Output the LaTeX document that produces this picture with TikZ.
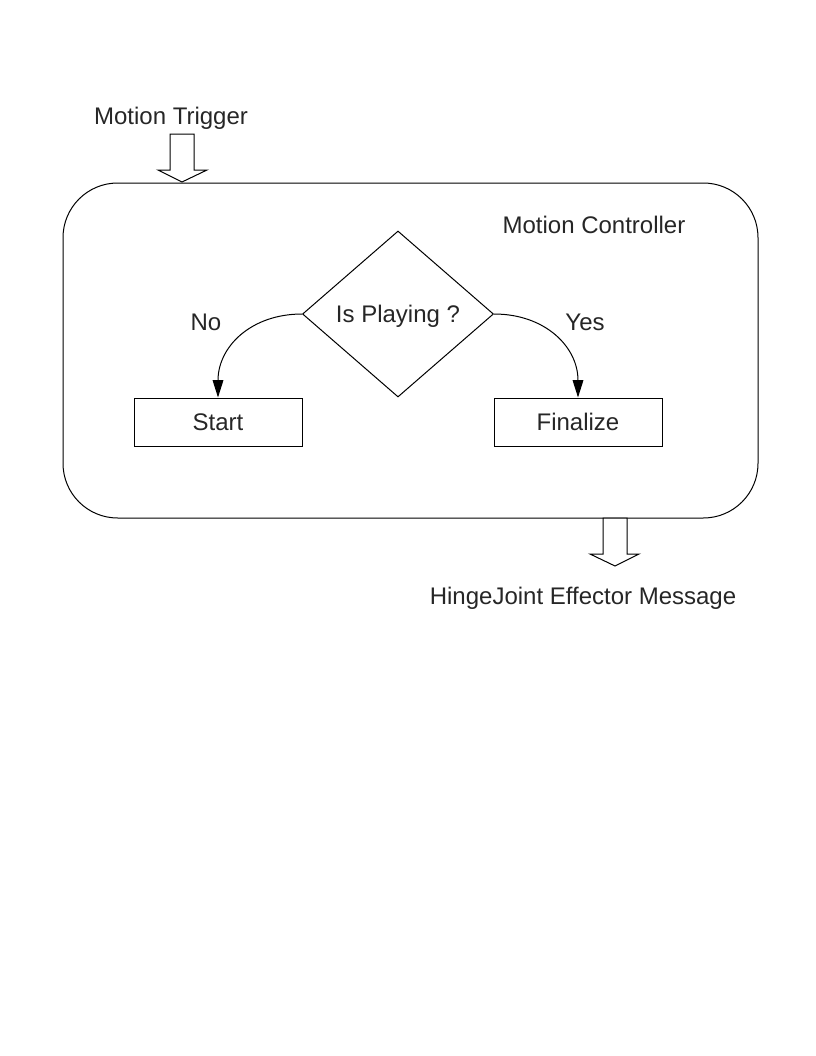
\documentclass[tikz,border=0pt]{standalone}
\usepackage{fontspec}
\setmainfont{Liberation Sans}
\usetikzlibrary{shapes.geometric,arrows.meta}
\begin{document}
\begin{tikzpicture}[x=0.75pt,y=-0.75pt,
  lbl/.style={font=\fontsize{18}{21}\selectfont, text=black!85, inner sep=0},
  box/.style={draw, line width=0.75pt, minimum width=126pt, minimum height=36pt, inner sep=0, font=\fontsize{18}{21}\selectfont, text=black!85},
  flow/.style={draw, line width=0.75pt, -{Triangle[length=13pt,width=8pt]}},
  blockarrow/.style={draw, line width=0.75pt, fill=white}]
\useasboundingbox (0,0) rectangle (816,1056);
\node[draw, line width=0.75pt, rounded corners=41pt, minimum width=521.25pt, minimum height=251.25pt, inner sep=0] (ctrl) at (410.5,350.5) {};
\node[lbl] (ctrltxt) at (594,225) {Motion Controller};
\node[draw, line width=0.75pt, diamond, aspect=1.15, minimum width=143.25pt, minimum height=124.5pt, inner sep=0] (play) at (398,314) {};
\node[lbl] (playtxt) at (398,316) {Is Playing ?};
\node[box] (start) at (218,422) {Start};
\node[box] (fin) at (578,422) {Finalize};
\node[lbl] (no) at (206,322) {No};
\node[lbl] (yes) at (585,322) {Yes};
\draw[flow] (play.west) to[out=180,in=90,looseness=1.1] (start.north);
\draw[flow] (play.east) to[out=0,in=90,looseness=1.1] (fin.north);
\node[lbl] (trig) at (171,118) {Motion Trigger};
\node[lbl] (msg) at (583,598) {HingeJoint Effector Message};
\draw[blockarrow] (170,134) -- (194,134) -- (194,170) -- (207,170) -- (182,182) -- (158,170) -- (170,170) -- cycle;
\draw[blockarrow] (603,518) -- (627,518) -- (627,554) -- (639,554) -- (615,566) -- (590,554) -- (603,554) -- cycle;
\end{tikzpicture}
\end{document}
